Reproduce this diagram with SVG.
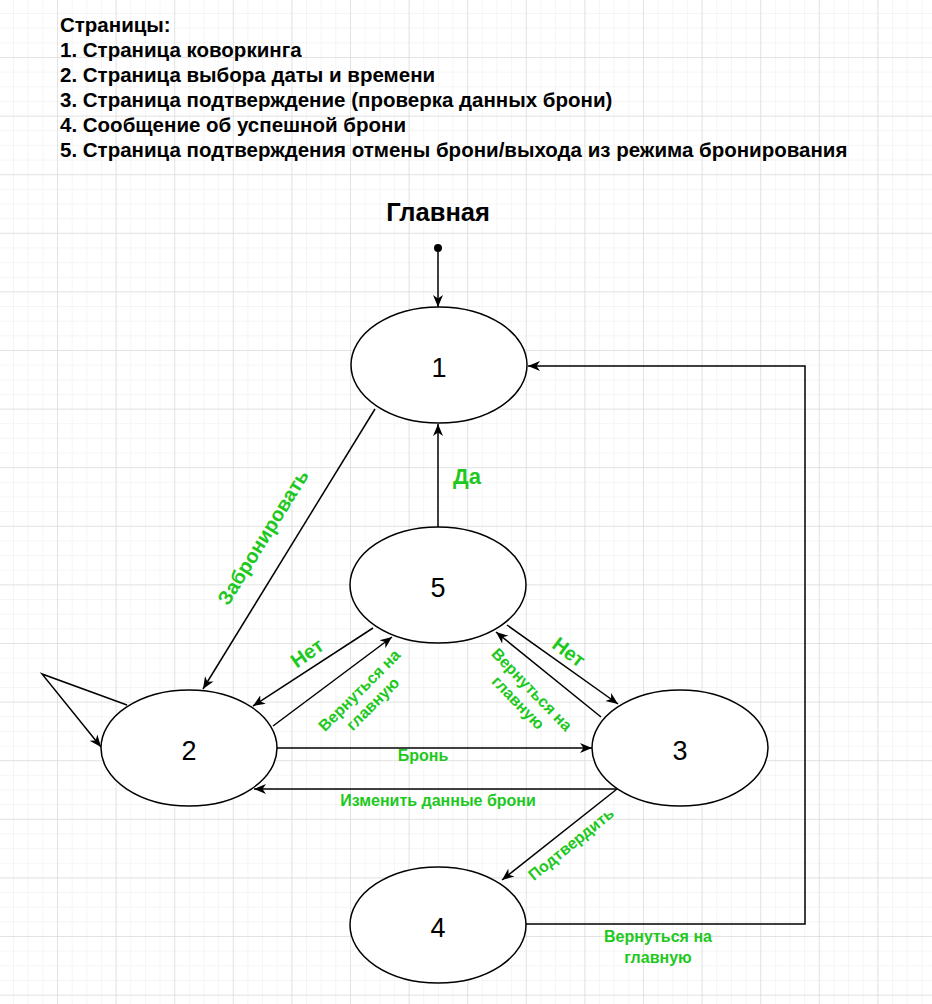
<svg xmlns="http://www.w3.org/2000/svg" width="932" height="1004" viewBox="0 0 932 1004">
<defs>
<pattern id="minor" x="-1.6" y="-1.6" width="14.65" height="14.65" patternUnits="userSpaceOnUse">
<path d="M0,0 H14.65 M0,0 V14.65" fill="none" stroke="#ececec" stroke-width="1"/>
</pattern>
<pattern id="major" x="-1.6" y="-1.6" width="58.6" height="58.6" patternUnits="userSpaceOnUse">
<path d="M0,0 H58.6 M0,0 V58.6" fill="none" stroke="#d2d2d2" stroke-width="1"/>
</pattern>
<marker id="arr" markerUnits="userSpaceOnUse" markerWidth="13" markerHeight="11" refX="12" refY="5.5" orient="auto">
<path d="M0,0.5 L12,5.5 L0,10.5 L3.5,5.5 Z" fill="#000"/>
</marker>
</defs>
<style>
.node ellipse{fill:#fff;stroke:#000;stroke-width:1.5}
.num{font-family:"Liberation Sans",Arial,sans-serif;font-size:27px;text-anchor:middle;fill:#000}
.edge{fill:none;stroke:#000;stroke-width:1.5;marker-end:url(#arr)}
.lbl{font-family:"Liberation Sans",Arial,sans-serif;font-weight:bold;fill:#1ec81e;text-anchor:middle}
.big{font-size:20px}
.small{font-size:16px}
.hdr{font-family:"Liberation Sans",Arial,sans-serif;font-weight:bold;font-size:20.5px;fill:#000}
</style>
<rect width="932" height="1004" fill="#fff"/>
<rect width="932" height="1004" fill="url(#minor)"/>
<rect width="932" height="1004" fill="url(#major)"/>

<g id="header">
<text class="hdr" x="60" y="32">Страницы:</text>
<text class="hdr" x="60" y="57">1. Страница коворкинга</text>
<text class="hdr" x="60" y="82">2. Страница выбора даты и времени</text>
<text class="hdr" x="60" y="107">3. Страница подтверждение (проверка данных брони)</text>
<text class="hdr" x="60" y="132">4. Сообщение об успешной брони</text>
<text class="hdr" x="60" y="157">5. Страница подтверждения отмены брони/выхода из режима бронирования</text>
</g>

<g id="start">
<text x="438" y="221" style="font-family:'Liberation Sans',Arial,sans-serif;font-weight:bold;font-size:25.5px;text-anchor:middle;fill:#000">Главная</text>
<circle cx="438" cy="248" r="4" fill="#000"/>
</g>

<g id="connectors">
<path class="edge" d="M438,252 V307"/>
<path class="edge" d="M375,409 L203,689"/>
<path class="edge" d="M438,527 V424"/>
<path class="edge" d="M373,628 L253,706"/>
<path class="edge" d="M273,726 L392,637"/>
<path class="edge" d="M601,717 L496,632"/>
<path class="edge" d="M507,625 L618,704"/>
<path class="edge" d="M277,748 H592"/>
<path class="edge" d="M617,789 H254"/>
<path class="edge" d="M617,789 L502,880"/>
<path class="edge" d="M526,924 H805 V366 H528"/>
<path class="edge" d="M127,705 L42,674 L101,747"/>
</g>

<g id="node1" class="node"><ellipse cx="439" cy="365" rx="88" ry="58"/><text class="num" x="439" y="377">1</text></g>
<g id="node5" class="node"><ellipse cx="438" cy="585" rx="88" ry="58"/><text class="num" x="438" y="597">5</text></g>
<g id="node2" class="node"><ellipse cx="189" cy="748" rx="88" ry="58"/><text class="num" x="189" y="760">2</text></g>
<g id="node3" class="node"><ellipse cx="680" cy="748" rx="88" ry="58"/><text class="num" x="680" y="760">3</text></g>
<g id="node4" class="node"><ellipse cx="438" cy="925" rx="88" ry="58"/><text class="num" x="438" y="937">4</text></g>

<g id="labels">
<text class="lbl big" transform="translate(263,537) rotate(-58.3)" y="7">Забронировать</text>
<text class="lbl" x="467" y="484" style="font-size:22px">Да</text>
<text class="lbl big" transform="translate(307,653) rotate(-35)" y="7">Нет</text>
<text class="lbl big" transform="translate(569,652) rotate(37)" y="7">Нет</text>
<g transform="translate(366,697) rotate(-45)">
<text class="lbl small" y="-4">Вернуться на</text>
<text class="lbl small" y="15">главную</text>
</g>
<g transform="translate(525,696) rotate(46)">
<text class="lbl small" y="-4">Вернуться на</text>
<text class="lbl small" y="15">главную</text>
</g>
<text class="lbl small" x="423" y="761">Бронь</text>
<text class="lbl small" x="438" y="806">Изменить данные брони</text>
<text class="lbl small" transform="translate(571,844) rotate(-39)" y="5.5">Подтвердить</text>
<text class="lbl small" x="658" y="942">Вернуться на</text>
<text class="lbl small" x="658" y="963">главную</text>
</g>
</svg>
